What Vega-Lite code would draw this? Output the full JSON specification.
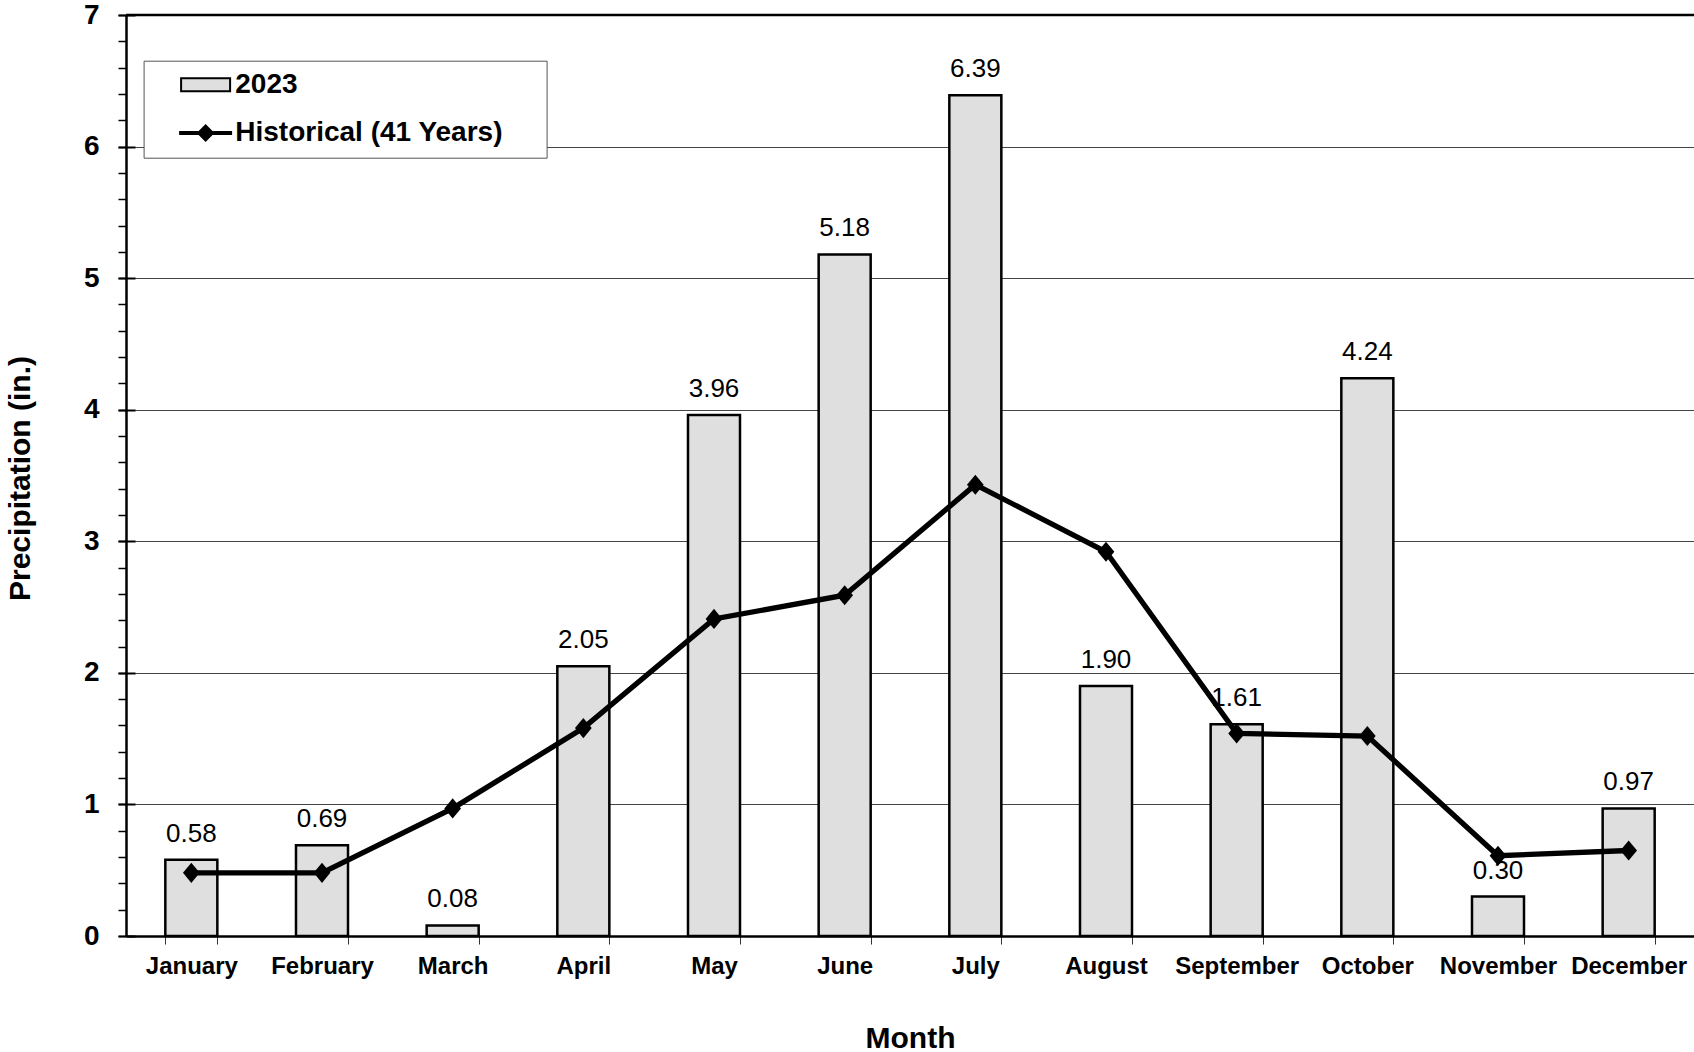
{
  "$schema": "https://vega.github.io/schema/vega-lite/v6.json",
  "width": 1568,
  "height": 921,
  "autosize": {"type": "none"},
  "padding": {"left": 126, "top": 15, "right": 0, "bottom": 116},
  "background": "white",
  "config": {
    "font": "Liberation Sans",
    "view": {"stroke": null},
    "legend": {
      "orient": "none", "direction": "vertical",
      "fillColor": "white", "strokeColor": "#555", "padding": 10, "rowPadding": 20.3,
      "symbolSize": 625, "symbolOffset": 38, "labelOffset": 15.7,
      "symbolStrokeColor": "black", "symbolStrokeWidth": 2, "symbolOpacity": 1,
      "labelFontSize": 28, "labelFontWeight": "bold", "labelColor": "black", "labelLimit": 600
    }
  },
  "data": {
    "values": [
      {"month": "January", "y2023": 0.58, "historical": 0.48},
      {"month": "February", "y2023": 0.69, "historical": 0.48},
      {"month": "March", "y2023": 0.08, "historical": 0.97},
      {"month": "April", "y2023": 2.05, "historical": 1.58},
      {"month": "May", "y2023": 3.96, "historical": 2.41},
      {"month": "June", "y2023": 5.18, "historical": 2.59},
      {"month": "July", "y2023": 6.39, "historical": 3.43},
      {"month": "August", "y2023": 1.9, "historical": 2.92},
      {"month": "September", "y2023": 1.61, "historical": 1.54},
      {"month": "October", "y2023": 4.24, "historical": 1.52},
      {"month": "November", "y2023": 0.3, "historical": 0.61},
      {"month": "December", "y2023": 0.97, "historical": 0.65}
    ]
  },
  "layer": [
    {
      "mark": {"type": "bar", "stroke": "black", "strokeWidth": 2.5},
      "encoding": {
        "x": {
          "field": "month", "type": "nominal", "sort": null,
          "scale": {"paddingInner": 0.602, "paddingOuter": 0.301},
          "axis": {
            "title": "Month", "titleFontSize": 30, "titleFontWeight": "bold", "titleColor": "black",
            "titleBaseline": "alphabetic", "titleY": 111,
            "labelAngle": 0, "labelFontSize": 24, "labelFontWeight": "bold", "labelColor": "black",
            "labelPadding": 10, "labelBaseline": "top",
            "tickBand": "extent", "tickSize": 8, "tickColor": "#333", "tickWidth": 1,
            "domainColor": "black", "domainWidth": 2.5, "grid": false
          }
        },
        "y": {
          "field": "y2023", "type": "quantitative",
          "scale": {"domain": [0, 7], "nice": false},
          "axis": {
            "orient": "left",
            "title": "Precipitation (in.)", "titleFontSize": 30, "titleFontWeight": "bold", "titleColor": "black",
            "titleX": -97, "titleY": 463, "titleBaseline": "alphabetic", "titleAngle": -90,
            "values": [0, 1, 2, 3, 4, 5, 6, 7], "format": "d",
            "labelFontSize": 28, "labelFontWeight": "bold", "labelColor": "black", "labelPadding": 19, "labelFlush": false,
            "tickSize": 8, "tickWidth": 2, "tickColor": "black",
            "domainColor": "black", "domainWidth": 2.5,
            "grid": true, "gridColor": "#444", "gridWidth": 1
          }
        },
        "color": {
          "datum": "2023",
          "scale": {"domain": ["2023", "Historical (41 Years)"], "range": ["#dfdfdf", "black"]},
          "legend": {
            "title": null, "legendX": 17.6, "legendY": 45.7,
            "encode": {"symbols": {"update": {"stroke": {"value": "black"}, "strokeWidth": {"value": 2}}}}
          }
        }
      }
    },
    {
      "mark": {"type": "text", "dy": -18, "baseline": "alphabetic", "fontSize": 26, "color": "black"},
      "encoding": {
        "x": {"field": "month", "type": "nominal", "sort": null},
        "y": {"field": "y2023", "type": "quantitative", "axis": null},
        "text": {"field": "y2023", "type": "quantitative", "format": ".2f"}
      }
    },
    {
      "mark": {"type": "line", "strokeWidth": 5.3, "color": "black"},
      "encoding": {
        "x": {"field": "month", "type": "nominal", "sort": null},
        "y": {
          "field": "historical", "type": "quantitative",
          "axis": {
            "orient": "left", "title": null, "labels": false, "domain": false, "grid": false,
            "values": [0, 0.2, 0.4, 0.6, 0.8, 1, 1.2, 1.4, 1.6, 1.8, 2, 2.2, 2.4, 2.6, 2.8, 3, 3.2, 3.4, 3.6, 3.8, 4, 4.2, 4.4, 4.6, 4.8, 5, 5.2, 5.4, 5.6, 5.8, 6, 6.2, 6.4, 6.6, 6.8, 7],
            "tickSize": 8, "tickWidth": 1.5, "tickColor": "black"
          }
        }
      }
    },
    {
      "mark": {"type": "point", "filled": true, "shape": "M0,-1.2L1,0L0,1.2L-1,0Z", "size": 280, "opacity": 1, "color": "black"},
      "encoding": {
        "x": {"field": "month", "type": "nominal", "sort": null},
        "y": {
          "field": "historical", "type": "quantitative",
          "axis": {
            "orient": "left", "title": null, "labels": false, "domain": false, "grid": false,
            "values": [0, 1, 2, 3, 4, 5, 6, 7],
            "tickSize": -9, "tickWidth": 2, "tickColor": "black"
          }
        }
      }
    },
    {
      "mark": {"type": "point", "filled": true, "opacity": 0, "stroke": "black", "strokeWidth": 2},
      "encoding": {
        "x": {"field": "month", "type": "nominal", "sort": null},
        "y": {"field": "historical", "type": "quantitative", "axis": null},
        "color": {"datum": "Historical (41 Years)"},
        "shape": {
          "datum": "Historical (41 Years)",
          "scale": {
            "domain": ["2023", "Historical (41 Years)"],
            "range": ["M-1.96,-0.52H1.96V0.52H-1.96Z", "M-2.04,-0.08H2.04V0.08H-2.04Z M0,-0.6L0.6,0L0,0.6L-0.6,0Z M26.13,0"]
          },
          "legend": {
            "title": null, "legendX": 17.6, "legendY": 45.7,
            "encode": {"symbols": {"update": {"stroke": {"value": "black"}, "strokeWidth": {"value": 2}}}}
          }
        }
      }
    },
    {
      "data": {"values": [{"edge": "top"}]},
      "mark": {"type": "rule", "color": "black", "strokeWidth": 2.5},
      "encoding": {
        "y": {"datum": 7, "type": "quantitative", "axis": null}
      }
    }
  ],
  "resolve": {"axis": {"y": "independent"}}
}
